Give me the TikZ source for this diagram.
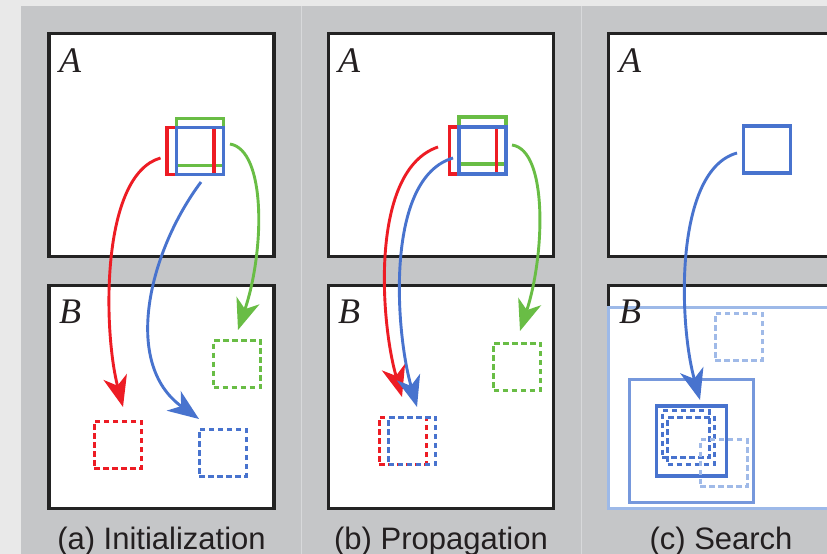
\documentclass[tikz,border=0pt]{standalone}
\usepackage{fontspec}
\setmainfont{Liberation Sans}
\newfontfamily\letterfont{Liberation Serif}
\usepackage{tikz}
\usetikzlibrary{arrows.meta}
\definecolor{pagegray}{RGB}{233,233,233}
\definecolor{panelgray}{RGB}{197,198,200}
\definecolor{dividergray}{RGB}{216,217,219}
\definecolor{framedark}{RGB}{35,35,35}
\definecolor{textdark}{RGB}{35,31,32}
\definecolor{patchred}{RGB}{237,28,36}
\definecolor{patchgreen}{RGB}{105,189,69}
\definecolor{patchblue}{RGB}{72,115,206}
\definecolor{searchlight}{RGB}{157,185,232}
\definecolor{searchmid}{RGB}{118,152,220}
\definecolor{lightdash}{RGB}{160,186,232}

\begin{document}
\begin{tikzpicture}[x=1pt, y=-1pt,
    % Node styles
    frame/.style={rectangle, draw=framedark, fill=white, line width=3.2pt, minimum width=225pt, minimum height=223pt, inner sep=0pt},
    window/.style={rectangle, fill=white, line width=3pt, inner sep=0pt, outer sep=0pt},
    patch/.style={rectangle, line width=3.2pt, minimum size=47pt, inner sep=0pt, outer sep=0pt},
    match/.style={patch, line width=3pt, dash pattern=on 5.5pt off 3.5pt},
    letter/.style={anchor=base west, inner sep=0pt, text=textdark, font=\letterfont\itshape\fontsize{36}{36}\selectfont},
    caption/.style={anchor=base, inner sep=0pt, text=textdark, font=\fontsize{31}{36}\selectfont},
    % Edge styles
    edge/.style={line width=2.9pt, -{Stealth[length=31pt, width=24pt, inset=9pt]}}
]
\useasboundingbox (0,0) rectangle (827,554);

% Background
\fill[pagegray] (0,0) rectangle (827,554);
\fill[panelgray] (20.5,6) rectangle (827,554);
\draw[dividergray, line width=1pt] (301,6) -- (301,554);
\draw[dividergray, line width=1pt] (581,6) -- (581,554);

% Frames A and B
\node[frame] (aA) at (161.5,145.2) {};
\node[frame] (aB) at (161.5,397) {};
\node[frame] (bA) at (441,145.2) {};
\node[frame] (bB) at (441,397) {};
\node[frame] (cA) at (721,145.2) {};
\node[frame] (cB) at (721,397) {};

% Panel (c) - search windows
\node[window, draw=searchlight, minimum width=241pt, minimum height=201pt] (cRange) at (729.3,407.5) {};
\node[window, draw=searchmid, minimum width=124pt, minimum height=123pt] (cWin) at (691,440.5) {};

% Panel (a) - patches in A
\node[patch, draw=patchgreen] (aGreen) at (200,142) {};
\node[patch, draw=patchred] (aRed) at (190.5,151) {};
\node[patch, draw=patchblue] (aBlue) at (200,151) {};

% Panel (a) - matches in B
\node[match, draw=patchred] (aRedB) at (117.5,444.5) {};
\node[match, draw=patchblue] (aBlueB) at (222.5,452.5) {};
\node[match, draw=patchgreen] (aGreenB) at (237,364) {};

% Panel (b) - patches in A
\node[patch, draw=patchgreen] (bGreen) at (482.5,140.5) {};
\node[patch, draw=patchred] (bRed) at (473,150.5) {};
\node[patch, draw=patchblue] (bBlue) at (482.5,150.5) {};

% Panel (b) - matches in B
\node[match, draw=patchgreen] (bGreenB) at (517,366.5) {};
\node[match, draw=patchred] (bRedB) at (402.5,440.5) {};
\node[match, draw=patchblue] (bBlueB) at (412,440.5) {};

% Panel (c) - patch in A
\node[patch, draw=patchblue] (cBlue) at (767,149.5) {};

% Panel (c) - candidates in B
\node[match, draw=lightdash] (cLightT) at (738.5,336.5) {};
\node[patch, draw=patchblue, line width=3.4pt, minimum size=70pt] (cBest) at (691.5,441) {};
\node[match, draw=patchblue] (cDashA) at (685.5,434) {};
\node[match, draw=patchblue] (cDashB) at (691,440.5) {};
\node[match, draw=lightdash] (cLightB) at (723.5,463) {};

% Image labels
\node[letter] (aLabA) at (59,72) {A};
\node[letter] (aLabB) at (59,323) {B};
\node[letter] (bLabA) at (338,72) {A};
\node[letter] (bLabB) at (338,323) {B};
\node[letter] (cLabA) at (619,72) {A};
\node[letter] (cLabB) at (619,323) {B};

% Captions
\node[caption] (capA) at (161.5,549) {(a) Initialization};
\node[caption] (capB) at (441,549) {(b) Propagation};
\node[caption] (capC) at (721,549) {(c) Search};

% Draw all edges
\draw[edge, patchred] ([shift={(-6.5,7)}]aRed.west) .. controls +(-60,17) and +(-20,-77) .. ([shift={(5.5,-14)}]aRedB.north);
\draw[edge, patchblue] ([shift={(1,7.5)}]aBlue.south) .. controls +(-51,68) and +(-78,-56) .. ([shift={(0,-10)}]aBlueB.north west);
\draw[edge, patchgreen] ([shift={(6.5,2)}]aGreen.east) .. controls +(36,6) and +(27,-80) .. ([shift={(1,-10.5)}]aGreenB.north);

\draw[edge, patchred] ([shift={(-11.5,-3.5)}]bRed.west) .. controls +(-68,23) and +(-22,-77) .. ([shift={(-0.5,-20)}]bRedB.north);
\draw[edge, patchblue] ([shift={(-6,7.5)}]bBlue.west) .. controls +(-68,20) and +(-22,-77) .. ([shift={(5,-10)}]bBlueB.north);
\draw[edge, patchgreen] ([shift={(6,4.5)}]bGreen.east) .. controls +(36,5) and +(25,-76) .. ([shift={(3,-12)}]bGreenB.north);

\draw[edge, patchblue] ([shift={(-6.5,3.5)}]cBlue.west) .. controls +(-62,17) and +(-22,-80) .. ([shift={(8.5,-6)}]cBest.north);

\end{tikzpicture}
\end{document}
